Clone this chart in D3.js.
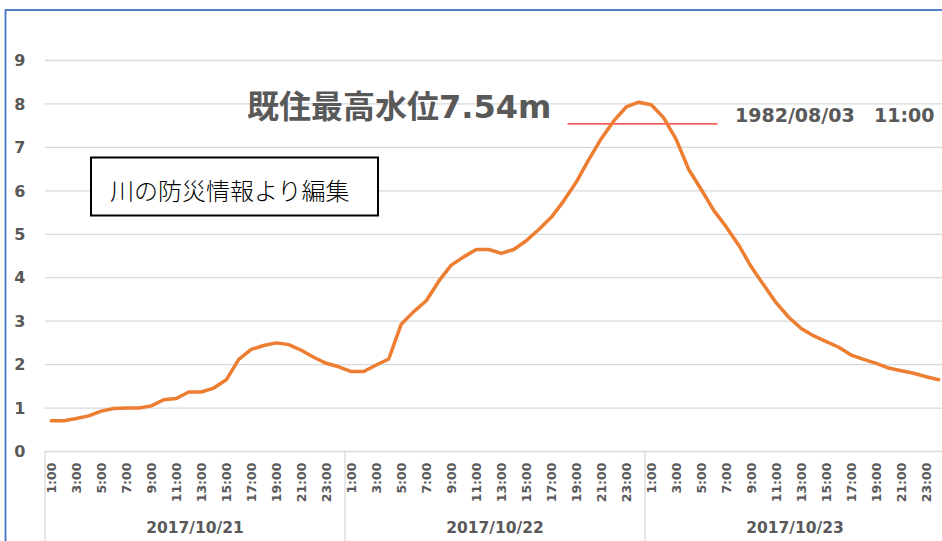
<!DOCTYPE html>
<html>
<head>
<meta charset="utf-8">
<script src="https://cdn.jsdelivr.net/npm/d3@7"></script>
<style>
  body { margin: 0; background: #fff; }
</style>
</head>
<body>
<div id="canvas"></div>
<script>
// water level (m), hourly 1:00 .. 24:00 for each day
const days = ["2017/10/21", "2017/10/22", "2017/10/23"];
const hours = d3.range(1, 25).map(h => h + ":00");
const day1 = [0.71, 0.71, 0.76, 0.82, 0.93, 0.99, 1.0, 1.0, 1.05, 1.19, 1.22, 1.37,
              1.37, 1.46, 1.65, 2.12, 2.35, 2.44, 2.50, 2.46, 2.33, 2.17, 2.03, 1.95];
const day2 = [1.84, 1.84, 1.99, 2.13, 2.93, 3.22, 3.47, 3.92, 4.29, 4.48, 4.65, 4.65,
              4.56, 4.65, 4.85, 5.11, 5.39, 5.77, 6.20, 6.72, 7.20, 7.61, 7.93, 8.04];
const day3 = [7.98, 7.68, 7.18, 6.49, 6.03, 5.55, 5.17, 4.75, 4.25, 3.83, 3.42, 3.09,
              2.83, 2.66, 2.53, 2.40, 2.22, 2.12, 2.03, 1.92, 1.86, 1.80, 1.72, 1.65];
const yTicks = [0, 1, 2, 3, 4, 5, 6, 7, 8, 9];
const record = 7.54;               // past max level
const recordSpan = [41.3, 53.3];   // index range of the red mark
const title = "既住最高水位7.54m";
const recordDate = ["1982/08/03", "11:00"];
const note = "川の防災情報より編集";

const levels = day1.concat(day2, day3);
const n = levels.length;

const width = 942, height = 541;
const gray = "#595959";
const gridColor = "#d9d9d9";

const svg = d3.select("#canvas").append("svg")
    .attr("width", width)
    .attr("height", height);

// blue frame (right/bottom cut off)
svg.append("rect")
    .attr("x", 5.5).attr("y", 10)
    .attr("width", 1000).attr("height", 600)
    .attr("fill", "none")
    .attr("stroke", "#4472C4")
    .attr("stroke-width", 1.8);

const x = d3.scaleLinear().domain([-0.5, n - 0.5]).range([45, 945]);
const y = d3.scaleLinear().domain([0, 9]).range([451.5, 60.5]);

// horizontal gridlines
svg.append("g").selectAll("line").data(yTicks).join("line")
    .attr("x1", x(-0.5)).attr("x2", x(n - 0.5))
    .attr("y1", d => y(d)).attr("y2", d => y(d))
    .attr("stroke", gridColor)
    .attr("stroke-width", 1.3);

// y labels
svg.append("g").selectAll("text").data(yTicks).join("text")
    .attr("x", 25.5)
    .attr("y", d => y(d))
    .attr("dy", "0.36em")
    .attr("text-anchor", "end")
    .attr("font-family", "DejaVu Sans")
    .attr("font-weight", "bold")
    .attr("font-size", 16)
    .attr("fill", gray)
    .text(d => d);

// day separators
svg.append("g").selectAll("line").data(d3.range(days.length + 1)).join("line")
    .attr("x1", d => x(d * 24 - 0.5)).attr("x2", d => x(d * 24 - 0.5))
    .attr("y1", y(0)).attr("y2", height)
    .attr("stroke", gridColor)
    .attr("stroke-width", 1.3);

// hour tick labels (odd hours)
const tickIdx = d3.range(n).filter(i => i % 2 === 0);
svg.append("g").selectAll("text").data(tickIdx).join("text")
    .attr("transform", i => `translate(${x(i)},${y(0) + 11}) rotate(-90)`)
    .attr("dy", "0.36em")
    .attr("text-anchor", "end")
    .attr("font-family", "DejaVu Sans")
    .attr("font-weight", "bold")
    .attr("font-size", 12.5)
    .attr("fill", gray)
    .text(i => hours[i % 24]);

// day labels
svg.append("g").selectAll("text").data(days).join("text")
    .attr("x", (d, k) => x(k * 24 + 11.5))
    .attr("y", 533)
    .attr("text-anchor", "middle")
    .attr("font-family", "DejaVu Sans")
    .attr("font-weight", "bold")
    .attr("font-size", 15.5)
    .attr("fill", gray)
    .text(d => d);

// record level mark
svg.append("line")
    .attr("x1", x(recordSpan[0])).attr("x2", x(recordSpan[1]))
    .attr("y1", y(record)).attr("y2", y(record))
    .attr("stroke", "#ff2020")
    .attr("stroke-width", 1.2);

// water level line
const line = d3.line()
    .x((d, i) => x(i))
    .y(d => y(d));

svg.append("path")
    .datum(levels)
    .attr("d", line)
    .attr("fill", "none")
    .attr("stroke", "#ED7D31")
    .attr("stroke-width", 3.5)
    .attr("stroke-linejoin", "round")
    .attr("stroke-linecap", "round");

// title
svg.append("text")
    .attr("x", 247)
    .attr("y", 118)
    .attr("font-family", "DejaVu Sans, Noto Sans CJK JP")
    .attr("font-weight", "bold")
    .attr("font-size", 32)
    .attr("fill", gray)
    .text(title);

const rd = svg.append("text")
    .attr("y", 121.5)
    .attr("font-family", "DejaVu Sans")
    .attr("font-weight", "bold")
    .attr("font-size", 19)
    .attr("fill", gray);
rd.append("tspan").attr("x", 735).text(recordDate[0]);
rd.append("tspan").attr("x", 874).text(recordDate[1]);

// source note box
svg.append("rect")
    .attr("x", 91).attr("y", 157.5)
    .attr("width", 287).attr("height", 58)
    .attr("fill", "#fff")
    .attr("stroke", "#000")
    .attr("stroke-width", 2);

svg.append("text")
    .attr("x", 110)
    .attr("y", 200)
    .attr("font-family", "Noto Sans CJK JP")
    .attr("font-weight", 300)
    .attr("font-size", 24)
    .attr("fill", "#000")
    .text(note);
</script>
</body>
</html>
